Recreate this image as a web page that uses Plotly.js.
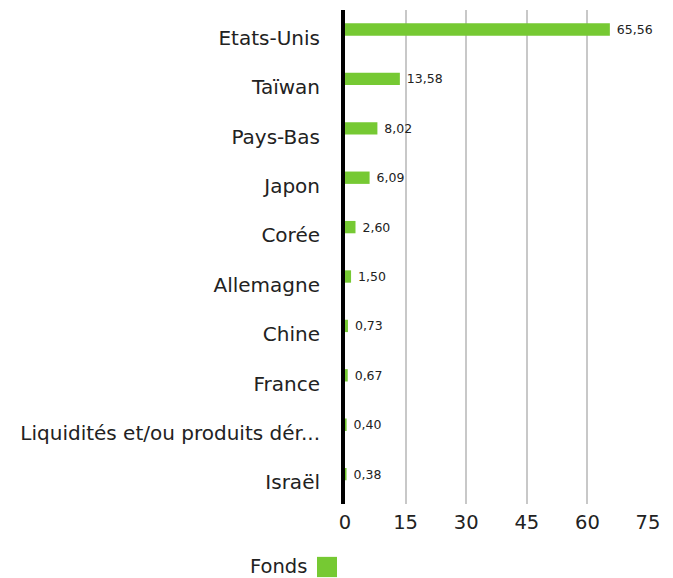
<!DOCTYPE html>
<html>
<head>
<meta charset="utf-8">
<script src="https://cdn.plot.ly/plotly-3.0.1.min.js"></script>
<style>html,body{margin:0;padding:0;background:#fff;}#chart{width:673px;height:578px;}</style>
</head>
<body>
<div id="chart"></div>
<script>
const categories = ["Etats-Unis","Taïwan","Pays-Bas","Japon","Corée","Allemagne","Chine","France","Liquidités et/ou produits dér...","Israël"];
const values = [65.56,13.58,8.02,6.09,2.60,1.50,0.73,0.67,0.40,0.38];
const xTicks = [0,15,30,45,60,75];
const seriesName = "Fonds";
const barColor = "#76c933";
const FONT = "'DejaVu Sans', sans-serif";

const trace = {
  type: "bar",
  orientation: "h",
  y: categories,
  x: values,
  name: seriesName,
  marker: {color: barColor},
  width: 0.25,
  offset: -0.23,
  texttemplate: "\u00a0%{x:.2f}",
  textposition: "outside",
  constraintext: "none",
  cliponaxis: false,
  textfont: {family: FONT, size: 12.5, color: "#222"},
  hoverinfo: "skip",
  showlegend: false
};

const layout = {
  width: 673, height: 578,
  margin: {l: 345, r: 25, t: 10, b: 74},
  separators: ",.",
  paper_bgcolor: "#fff", plot_bgcolor: "#fff",
  font: {family: FONT, color: "#222"},
  xaxis: {
    range: [0, 75],
    tickvals: xTicks,
    ticktext: xTicks.map(String),
    showgrid: true, gridcolor: "#c8c8c8", gridwidth: 2,
    zeroline: false, showline: false, ticks: "",
    ticklabelstandoff: 4,
    tickfont: {family: FONT, size: 19.5, color: "#222"},
    fixedrange: true
  },
  yaxis: {
    type: "category",
    autorange: "reversed",
    showgrid: false, zeroline: false,
    showline: true, linecolor: "#000", linewidth: 4,
    ticks: "", ticklabelstandoff: 17, ticklabelshift: -3,
    tickfont: {family: FONT, size: 20, color: "#222"},
    fixedrange: true
  },
  shapes: [{type: "rect", xref: "paper", yref: "paper", x0: -0.0924, x1: -0.0264, y0: -0.107, y1: -0.148, fillcolor: barColor, line: {width: 0}}],
  annotations: [{xref: "paper", yref: "paper", x: -0.119, y: -0.1275, xanchor: "right", yanchor: "middle", text: seriesName, showarrow: false, font: {family: FONT, size: 19.5, color: "#222"}}],
  showlegend: false
};

Plotly.newPlot("chart", [trace], layout, {displayModeBar: false, staticPlot: true});
</script>
</body>
</html>
